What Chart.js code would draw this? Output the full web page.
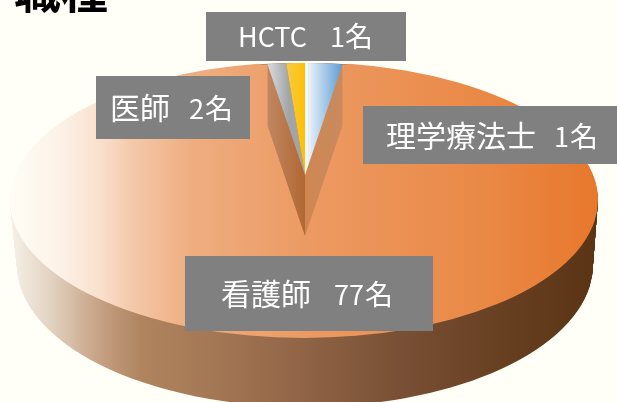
<!DOCTYPE html>
<html lang="ja"><head><meta charset="utf-8">
<style>html,body{margin:0;padding:0;background:#fffff8;overflow:hidden}canvas{display:block}</style>
<script src="https://cdn.jsdelivr.net/npm/chart.js@4/dist/chart.umd.min.js"></script>
</head><body><canvas id="c" width="617" height="402"></canvas>
<script>
const titleText = '職種';
const categories = ['医師', '看護師', '理学療法士', 'HCTC'];
const counts = [2, 77, 1, 1];
const unit = '名';
const labelBoxes = [[96,76,154,63],[185,256,248,75],[363,106,254,58],[206,12,200,49]];
const labelRuns = [[110,189,205,119],[221,334,365,305],[386,554,570,147],[238,330,345,47]];
const topFaceStops = [[10,'#fffdf6'],[60,'#fdf2e8'],[100,'#f9e0cd'],[133,'#f4c8a9'],[190,'#efae80'],[307,'#ec9a63'],[472,'#ea8a48'],[598,'#e7782c']];
const wallStops = [[10,'#f6f1e8'],[50,'#e3d3c2'],[100,'#c6a184'],[140,'#b0845f'],[210,'#a57855'],[310,'#8e6244'],[400,'#795035'],[500,'#673f21'],[598,'#5b3315']];
const cutStops = [[268,'#c08660'],[304.5,'#b16833'],[305,'#cf8751'],[343,'#c88a5f']];
const wedgeStops = [
  [[306,'#f4f8fb'],[343,'#5b9bd5']],
  null,
  [[268,'#d8dadb'],[289,'#a2a5a6']],
  [[289,'#f7c93f'],[306,'#ffbf00']]
];
const far = {cx:305, cy:175, rx:243, ry:112};
const rim = {cx:304, cy:200, rx:294, ry:138};
const depth = {dy:65, drx:-6, dry:4, cutDy:61};

const place = (ctx, el, v) => {
  ctx.translate(v.cx, v.cy);
  ctx.scale(v.rx / el.outerRadius, v.ry / el.outerRadius);
  ctx.translate(-el.x, -el.y);
};
const grad = (ctx, el, v, stops) => {
  const ux = px => el.x + (px - v.cx) * el.outerRadius / v.rx;
  const x0 = stops[0][0], x1 = stops[stops.length - 1][0];
  const g = ctx.createLinearGradient(ux(x0), 0, ux(x1), 0);
  stops.forEach(s => g.addColorStop((s[0] - x0) / (x1 - x0), s[1]));
  return g;
};
const paint = (ctx, el, v, stops) => {
  const e = Object.create(el);
  e.options = Object.assign({}, el.options, {backgroundColor: grad(ctx, el, v, stops), borderWidth: 0});
  ctx.save(); place(ctx, el, v); e.draw(ctx); ctx.restore();
};
const piePlugin = {
  id: 'pie3d',
  beforeDatasetsDraw(chart) {
    const ctx = chart.ctx, arcs = chart.getDatasetMeta(0).data, main = arcs[1];
    for (let i = depth.dy; i >= 1; i--) {
      const t = i / depth.dy;
      const v = {cx: rim.cx + t, cy: rim.cy + depth.dy * t, rx: rim.rx + depth.drx * t, ry: rim.ry + depth.dry * t};
      arcs.forEach(a => paint(ctx, a, v, wallStops));
    }
    paint(ctx, main, far, topFaceStops);
    paint(ctx, main, rim, topFaceStops);
    const small = arcs.filter((a, i) => wedgeStops[i]);
    for (let i = depth.cutDy; i >= 1; i--) {
      small.forEach(a => paint(ctx, a, Object.assign({}, far, {cy: far.cy + i}), cutStops));
    }
    arcs.forEach((a, i) => { if (wedgeStops[i]) paint(ctx, a, far, wedgeStops[i]); });
    return false;
  },
  afterDraw(chart) {
    const ctx = chart.ctx;
    ctx.save();
    ctx.fillStyle = '#000';
    ctx.font = 'bold 47px "Noto Sans CJK JP"';
    ctx.textAlign = 'left'; ctx.textBaseline = 'alphabetic';
    ctx.fillText(titleText, 14, 8);
    categories.forEach((c, i) => {
      const b = labelBoxes[i], r = labelRuns[i];
      ctx.fillStyle = '#808080';
      ctx.fillRect(b[0], b[1], b[2], b[3]);
      ctx.fillStyle = '#fff';
      ctx.font = (c === 'HCTC' ? 27 : 30) + 'px "Noto Sans CJK JP"';
      ctx.fillText(c, r[0], r[3]);
      ctx.font = '27px "Noto Sans CJK JP"';
      ctx.fillText(String(counts[i]), r[1], r[3]);
      ctx.font = '28px "Noto Sans CJK JP"';
      ctx.fillText(unit, r[2], r[3]);
    });
    ctx.restore();
  }
};
new Chart(document.getElementById('c'), {
  type: 'pie',
  data: {labels: categories, datasets: [{data: counts, borderWidth: 0, backgroundColor: ['#5b9bd5', '#ed7d31', '#a5a5a5', '#ffc000']}]},
  options: {
    responsive: false, animation: false, events: [],
    layout: {padding: 0},
    plugins: {legend: {display: false}, tooltip: {enabled: false}, title: {display: false}}
  },
  plugins: [piePlugin]
});
</script></body></html>
